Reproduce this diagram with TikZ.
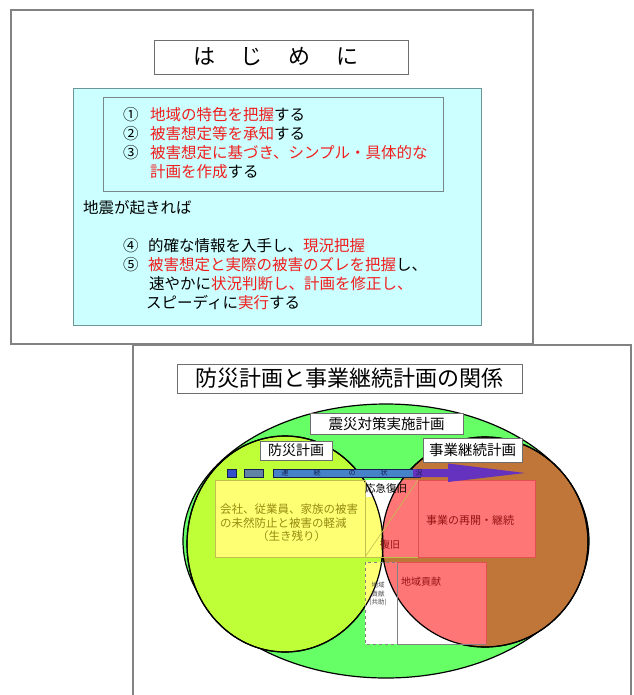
\documentclass[tikz,border=0pt]{standalone}
\usepackage{fontspec}
\setmainfont{Noto Sans CJK JP}
\definecolor{framegray}{RGB}{130,130,130}
\definecolor{boxgray}{RGB}{110,110,110}
\definecolor{cyanfill}{RGB}{204,255,255}
\definecolor{cyanline}{RGB}{110,150,150}
\definecolor{innergray}{RGB}{120,135,135}
\definecolor{txtred}{RGB}{240,30,30}
\definecolor{greenE}{RGB}{102,255,102}
\definecolor{yellowC}{RGB}{190,255,55}
\definecolor{brownC}{RGB}{192,118,56}
\definecolor{yellowR}{RGB}{255,255,115}
\definecolor{yellowB}{RGB}{195,190,80}
\definecolor{pinkR}{RGB}{255,118,118}
\definecolor{pinkB}{RGB}{225,80,80}
\definecolor{olivetxt}{RGB}{150,140,20}
\definecolor{darkredtxt}{RGB}{150,20,20}
\definecolor{blueSq}{RGB}{50,80,200}
\definecolor{steel}{RGB}{95,130,165}
\definecolor{barblue}{RGB}{70,130,200}
\definecolor{purpleA}{RGB}{100,50,190}
\definecolor{navy}{RGB}{20,30,80}
\tikzset{
  frameline/.style={draw=framegray, line width=2pt},
  boxline/.style={draw=boxgray, line width=0.9pt, fill=white},
  txt/.style={inner sep=0pt, anchor=west, font=\fontsize{15.5}{19}\selectfont},
  lbl/.style={draw=boxgray, fill=white, line width=0.8pt, inner sep=0pt},
  circline/.style={draw=black, line width=1.2pt},
}
\newcommand{\rd}[1]{\textcolor{txtred}{#1}}
\begin{document}
\begin{tikzpicture}[x=1pt,y=-1pt]
\useasboundingbox (0,0) rectangle (633,695);
% ---------- top slide ----------
\draw[frameline, fill=white] (11,10) rectangle (533,344);
\draw[boxline] (154,40) rectangle (408,74);
\node[inner sep=0pt, font=\fontsize{22}{26}\selectfont] (title1) at (276,57) {は\hspace{26pt}じ\hspace{26pt}め\hspace{26pt}に};
\draw[draw=cyanline, fill=cyanfill, line width=1pt] (73,89) rectangle (481,325);
\draw[draw=innergray, line width=1pt] (103,98) rectangle (443,191);
\node[txt] (l1) at (123,115) {\makebox[27pt][l]{①}\rd{地域の特色を把握}する};
\node[txt] (l2) at (123,134) {\makebox[27pt][l]{②}\rd{被害想定等を承知}する};
\node[txt] (l3) at (123,153) {\makebox[27pt][l]{③}\rd{被害想定に基づき、シンプル・具体的な}};
\node[txt] (l4) at (150,172) {\rd{計画を作成}する};
\node[txt] (l5) at (83,208) {地震が起きれば};
\node[txt] (l6) at (123,246) {\makebox[25pt][l]{④}的確な情報を入手し、\rd{現況把握}};
\node[txt] (l7) at (123,265) {\makebox[25pt][l]{⑤}\rd{被害想定と実際の被害のズレを把握}し、};
\node[txt] (l8) at (149,284) {速やかに\rd{状況判断し、計画を修正し、}};
\node[txt] (l9) at (146,303) {スピーディに\rd{実行}する};
% ---------- bottom slide ----------
\fill[white] (133,345) rectangle (633,695);
\draw[frameline] (133,698) -- (133,345) -- (631,345) -- (631,698);
\draw[boxline] (177,364) rectangle (522,393);
\node[inner sep=0pt, font=\fontsize{22}{26}\selectfont] (title2) at (349,378.5) {防災計画と事業継続計画の関係};
% ellipses
\path[fill=greenE, circline] (386,541) ellipse [x radius=203pt, y radius=137pt];
\path[fill=yellowC, circline] (285,544) ellipse [x radius=98pt, y radius=108pt];
\path[fill=brownC, circline] (485,542) ellipse [x radius=103pt, y radius=105pt];
% white areas
\fill[white] (365,480) rectangle (418,557);
\fill[white] (365,562) rectangle (486,644);
\fill[yellowR] (215,480) rectangle (365,557);
\begin{scope}
  \clip (285,544) ellipse [x radius=98pt, y radius=108pt];
  \fill[yellowR] (365,497) rectangle (418,557);
  \fill[yellowR] (365,562) rectangle (397,644);
\end{scope}
\begin{scope}
  \clip (485,542) ellipse [x radius=103pt, y radius=105pt];
  \fill[pinkR] (365,480) rectangle (535,557);
  \fill[pinkR] (365,562) rectangle (486,644);
\end{scope}
% outlines again
\draw[circline] (285,544) ellipse [x radius=98pt, y radius=108pt];
\draw[circline] (485,542) ellipse [x radius=103pt, y radius=105pt];
% box borders
\draw[yellowB, line width=0.8pt] (215,480) rectangle (365,557);
\draw[yellowB, line width=0.6pt] (365,557) -- (418,557);
\draw[yellowB, line width=0.6pt] (365,557) -- (418,480);
\draw[pinkB, line width=0.8pt] (418,480) rectangle (535,557);
\draw[draw=framegray, dashed, line width=0.8pt] (365,562) rectangle (397,644);
\draw[draw=framegray, line width=0.9pt] (397,562) -- (397,644) -- (486,644);
\draw[pinkB, line width=0.8pt] (397,562) -- (486,562) -- (486,644);
% labels
\node[lbl, minimum width=153pt, minimum height=21pt, font=\fontsize{14.5}{16}\selectfont] (shinsai) at (386.5,423.5) {震災対策実施計画};
\node[lbl, minimum width=72pt, minimum height=19pt, font=\fontsize{14}{16}\selectfont] (bousai) at (296,450.5) {防災計画};
\node[lbl, minimum width=99pt, minimum height=24pt, font=\fontsize{14.5}{16}\selectfont] (bcp) at (472.5,450) {事業継続計画};
% progress bar
\draw[fill=blueSq, draw=navy, line width=0.5pt] (227,469) rectangle (236,477);
\draw[fill=steel, draw=navy, line width=0.4pt] (244,469) rectangle (263,477);
\draw[fill=barblue, draw=navy, line width=0.4pt] (273,469) rectangle (420,477);
\fill[purpleA] (413,469) -- (448,469) -- (448,463.5) -- (525,473) -- (448,482) -- (448,477) -- (413,477) -- cycle;
\node[inner sep=0pt, font=\fontsize{7}{8}\selectfont, text=navy] (renzoku) at (352,473) {連\hspace{25pt}続\hspace{28pt}の\hspace{25pt}状\hspace{28pt}況};
% texts in boxes
\node[anchor=north west, inner sep=0pt, align=left, font=\fontsize{11.5}{13.5}\selectfont, text=olivetxt] (ytext) at (220,504) {会社、従業員、家族の被害\\の未然防止と被害の軽減\\\hspace{37pt}（生き残り）};
\node[inner sep=0pt, font=\fontsize{11}{13}\selectfont, text=darkredtxt] (saikai) at (470,520) {事業の再開・継続};
\node[inner sep=0pt, anchor=west, font=\fontsize{10}{12}\selectfont, text=darkredtxt] (chiiki) at (401,582) {地域貢献};
\node[inner sep=0pt, font=\fontsize{10}{12}\selectfont, text=darkredtxt] (fukkyu) at (390,545) {復旧};
\node[inner sep=0pt, font=\fontsize{10.5}{12}\selectfont] (oukyu) at (386,489) {応急復旧};
\node[inner sep=0pt, align=center, font=\fontsize{6.5}{8.5}\selectfont, text=black!70] (kyojo) at (378,594) {地域\\貢献\\(共助)};
\end{tikzpicture}
\end{document}
